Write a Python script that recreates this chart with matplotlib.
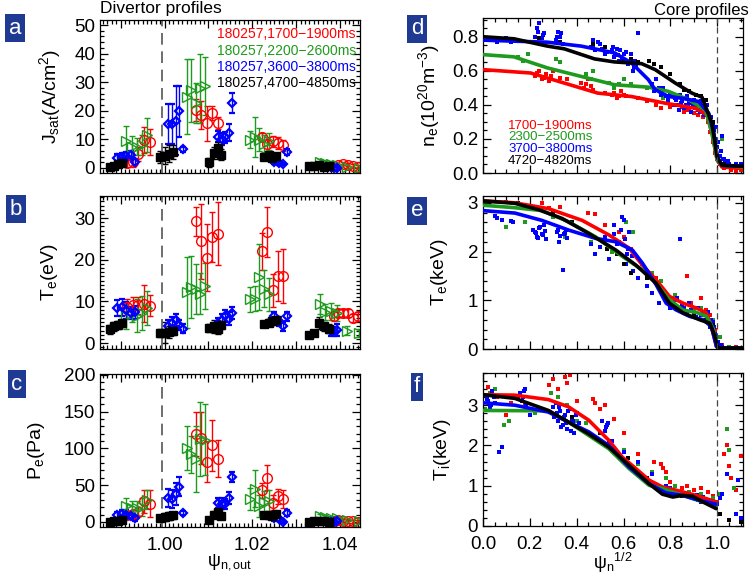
import numpy as np
import matplotlib
matplotlib.use('Agg')
import matplotlib.pyplot as plt
from matplotlib.ticker import MultipleLocator, FuncFormatter

plt.rcParams['font.family'] = ['Liberation Sans', 'DejaVu Sans']
plt.rcParams['mathtext.fontset'] = 'custom'
plt.rcParams['mathtext.rm'] = 'Liberation Sans'
plt.rcParams['mathtext.it'] = 'Liberation Sans'
plt.rcParams['mathtext.default'] = 'regular'

RED, GREEN, BLUE, BLACK = '#ff0000', '#1e9a1e', '#0000ff', '#000000'

# ---------------- divertor data (psi_n,out) ----------------
div_labels = ['180257,1700\u22121900ms', '180257,2200\u22122600ms',
              '180257,3600\u22123800ms', '180257,4700\u22124850ms']

red_x = [0.9915, 0.9927, 0.9940, 0.9953, 0.9966,
         1.0072, 1.0084, 1.0096, 1.0108, 1.0121,
         1.0222, 1.0234, 1.0246, 1.0258, 1.0270,
         1.0385, 1.0396, 1.0407, 1.0418, 1.0429, 1.0440]
red_jsat = [1.7, 2.0, 5.0, 9.8, 9.0, 20.3, 18.6, 15.6, 19.2, 15.7,
            10.8, 8.5, 9.3, 8.7, 7.9, 0.8, 1.0, 1.5, 1.2, 0.8, 0.5]
red_jsat_err = [1.5, 1.5, 2.5, 4.5, 4.5, 4.0, 5.0, 6.0, 2.5, 2.0,
                1.5, 2.5, 2.0, 2.0, 2.0, 0.5, 0.5, 0.5, 0.5, 0.5, 0.5]
red_te = [8.7, 9.1, 9.1, 9.5, 9.0, 29.2, 24.4, 20.5, 25.5, 26.3,
          22.0, 26.7, 12.7, 16.1, 16.1, 6.4, 7.3, 7.3, 7.3, 6.0, 6.4]
red_te_err = [2.0, 2.0, 2.0, 4.5, 2.5, 3.5, 9.0, 8.0, 6.0, 7.5,
              4.5, 6.0, 4.0, 6.0, 6.5, 1.0, 1.0, 1.0, 1.0, 1.0, 1.0]
red_pe = [10, 11, 14, 28, 25, 120, 114, 82, 104, 86,
          43, 60, 26, 35, 31, 2, 3, 2, 1, 1, 0.5]
red_pe_err = [5, 5, 6, 16, 18, 30, 35, 28, 35, 25,
              10, 17, 10, 10, 12, 2, 2, 2, 2, 2, 2]

green_x = [0.9913, 0.9926, 0.9938, 0.9948, 0.9960,
           1.0050, 1.0061, 1.0071, 1.0080, 1.0091,
           1.0195, 1.0205, 1.0215, 1.0226, 1.0237,
           1.0355, 1.0366, 1.0378, 1.0393, 1.0415, 1.0442]
green_jsat = [9.6, 7.2, 7.4, 8.0, 11.5, 25.0, 27.1, 22.7, 27.9, 28.7,
              9.9, 11.0, 9.9, 8.5, 9.3, 2.1, 1.8, 1.5, 1.0, 0.5, 0.0]
green_jsat_err = [5, 4, 3, 3.5, 6, 13, 11, 7, 12, 10,
                  3, 7, 4, 3, 3, 1, 1, 1, 0.5, 0.5, 0.5]
green_te = [6.5, 7.0, 6.6, 7.2, 8.4, 12.2, 13.5, 12.9, 11.9, 13.8,
            10.5, 10.7, 15.9, 13.1, 11.7, 9.4, 7.5, 7.6, 7.2, 3.0, 2.5]
green_te_err = [3, 2, 4, 4, 4, 8.5, 7.5, 6, 5, 5.5,
                3, 3, 8, 4.5, 4, 2.5, 2, 2, 2, 1, 1]
green_pe = [22, 19, 19, 20, 30, 101, 92, 86, 113, 112,
            31, 45, 22, 27, 29, 8, 7, 6, 6, 3, 1]
green_pe_err = [10, 10, 10, 12, 13, 30, 25, 45, 50, 48,
                15, 25, 15, 15, 15, 3, 3, 2, 2, 1, 1]

blue_x = [0.9891, 0.9902, 0.9913, 0.9923, 0.9932,
          1.0008, 1.0017, 1.0026, 1.0034, 1.0042,
          1.0121, 1.0130, 1.0137, 1.0146, 1.0153,
          1.0249, 1.0260, 1.0270, 1.0278,
          1.0378, 1.0385, 1.0393]
blue_jsat = [3.5, 3.8, 4.1, 4.4, 2.0, 15.5, 15.5, 16.5, 19.8, 6.5,
             11.0, 10.1, 10.7, 12.4, 22.7, 2.1, 1.7, 1.4, 5.6, 0.2, 0.1, 0.1]
blue_jsat_err = [1.5, 1.5, 1.5, 1.5, 1.0, 7, 7, 12, 9, 0.8,
                 2, 2, 2, 3, 3.5, 0.8, 0.5, 0.5, 1.2, 0.3, 0.3, 0.3]
blue_te = [8.4, 8.6, 7.9, 7.2, 7.4, 4.0, 4.8, 5.5, 4.3, 3.5,
           4.8, 5.6, 6.5, 5.9, 7.2, 6.4, 5.2, 4.0, 6.4, 2.8, 2.8, 3.2]
blue_te_err = [2, 2, 2, 1.5, 1.5, 1.5, 1.5, 1.5, 1.2, 1.0,
               1.2, 1.5, 1.5, 1.5, 1.5, 1, 1, 1, 1, 1, 1, 1.5]
blue_pe = [9, 11, 10, 7.7, 5, 33, 31, 38, 48, 12,
           26, 25, 24, 33, 61, 5, 4, 0, 12, 0, 0, 1]
blue_pe_err = [5, 5, 6, 4, 3, 12, 12, 15, 13, 3,
               7, 7, 7, 8, 7, 3, 3, 2, 4, 1, 1, 1]

black_x = [0.9875, 0.9885, 0.9895, 0.9903,
           0.9989, 1.0000, 1.0011, 1.0019,
           1.0102, 1.0112, 1.0121, 1.0128,
           1.0226, 1.0238, 1.0245, 1.0253,
           1.0328, 1.0340, 1.0351, 1.0362, 1.0374]
black_jsat = [0.2, 0.8, 1.3, 1.6, 3.8, 4.3, 5.0, 5.6, 2.0, 5.2, 7.0, 4.7,
              4.0, 4.5, 3.5, 4.2, 0.8, 0.6, 0.9, 0.5, 0.7]
black_jsat_err = [0.5, 0.5, 0.8, 0.8, 2, 3, 3, 2.5, 1.5, 2, 2, 2,
                  1, 1, 1, 1, 1, 1, 1, 1, 1]
black_te = [3.3, 4.0, 4.4, 4.8, 2.4, 2.5, 2.7, 2.9, 3.6, 4.0, 3.3, 4.4,
            4.6, 4.9, 5.2, 5.5, 2.0, 2.4, 4.8, 4.0, 3.5]
black_te_err = [1, 1, 1, 1, 1, 2.5, 1.5, 1, 1, 1.5, 1, 1,
                0.8, 0.8, 0.8, 0.8, 0.5, 0.5, 1.5, 1, 1]
black_pe = [0, 1, 2, 3, 5, 7, 8, 9, 3, 10, 13, 8, 10, 9, 8, 11, 0, 1, 2, 1, 0]
black_pe_err = [2, 2, 2, 2, 4, 5, 5, 5, 4, 5, 5, 4, 3, 3, 3, 3, 1, 1, 1, 1, 1]

# ---------------- core data (psi_n^1/2) ----------------
core_labels = ['1700\u22121900ms', '2300\u22122500ms', '3700\u22123800ms', '4720\u22124820ms']

# fitted profiles
red_ne_fx = [0.0, 0.204, 0.347, 0.49, 0.634, 0.778, 0.907, 0.957, 0.978, 1.0, 1.02, 1.11]
red_ne_fy = [0.607, 0.587, 0.528, 0.469, 0.449, 0.41, 0.38, 0.34, 0.23, 0.075, 0.035, 0.026]
green_ne_fx = [0.0, 0.132, 0.275, 0.419, 0.562, 0.706, 0.792, 0.878, 0.95, 0.978, 1.0, 1.02, 1.11]
green_ne_fy = [0.695, 0.682, 0.617, 0.567, 0.518, 0.504, 0.479, 0.43, 0.37, 0.23, 0.075, 0.045, 0.035]
blue_ne_fx = [0.0, 0.132, 0.275, 0.419, 0.562, 0.634, 0.706, 0.735, 0.792, 0.849, 0.921, 0.964, 0.986, 1.0, 1.02, 1.11]
blue_ne_fy = [0.78, 0.774, 0.768, 0.745, 0.705, 0.646, 0.548, 0.489, 0.449, 0.439, 0.42, 0.35, 0.23, 0.095, 0.045, 0.04]
black_ne_fx = [0.0, 0.132, 0.275, 0.347, 0.476, 0.562, 0.677, 0.735, 0.821, 0.892, 0.935, 0.978, 1.0, 1.02, 1.11]
black_ne_fy = [0.80, 0.788, 0.745, 0.729, 0.67, 0.652, 0.642, 0.607, 0.528, 0.469, 0.445, 0.29, 0.095, 0.045, 0.04]

red_te_fx = [0.0, 0.136, 0.28, 0.423, 0.538, 0.624, 0.681, 0.739, 0.796, 0.854, 0.911, 0.954, 0.975, 0.997, 1.01, 1.11]
red_te_fy = [3.04, 3.0, 2.88, 2.64, 2.34, 2.07, 1.72, 1.42, 1.08, 0.94, 0.84, 0.74, 0.46, 0.05, 0.02, 0.02]
green_te_fx = [0.0, 0.136, 0.251, 0.366, 0.481, 0.595, 0.681, 0.739, 0.796, 0.854, 0.911, 0.954, 0.982, 0.997, 1.01, 1.11]
green_te_fy = [2.95, 2.9, 2.84, 2.61, 2.3, 1.9, 1.62, 1.35, 1.01, 0.80, 0.75, 0.67, 0.43, 0.05, 0.02, 0.02]
blue_te_fx = [0.0, 0.136, 0.251, 0.366, 0.481, 0.567, 0.638, 0.681, 0.739, 0.782, 0.825, 0.882, 0.94, 0.975, 0.997, 1.01, 1.11]
blue_te_fy = [2.84, 2.79, 2.64, 2.44, 2.27, 2.2, 2.03, 1.76, 1.32, 0.94, 0.8, 0.67, 0.6, 0.46, 0.05, 0.02, 0.02]
black_te_fx = [0.0, 0.136, 0.237, 0.337, 0.452, 0.567, 0.653, 0.739, 0.796, 0.854, 0.925, 0.968, 0.99, 1.003, 1.01, 1.11]
black_te_fy = [3.04, 2.99, 2.86, 2.68, 2.37, 2.03, 1.72, 1.35, 0.94, 0.74, 0.6, 0.53, 0.26, 0.02, 0.02, 0.02]

red_ti_fx = [0.0, 0.136, 0.279, 0.365, 0.451, 0.537, 0.595, 0.652, 0.709, 0.766, 0.824, 0.91, 0.996]
red_ti_fy = [3.26, 3.25, 3.14, 2.96, 2.63, 2.13, 1.71, 1.43, 1.14, 0.97, 0.89, 0.76, 0.6]
green_ti_fx = [0.0, 0.279, 0.365, 0.451, 0.537, 0.623, 0.709, 0.766, 0.852, 0.938, 0.996]
green_ti_fy = [2.87, 2.86, 2.58, 2.25, 1.92, 1.43, 1.01, 0.93, 0.76, 0.6, 0.47]
blue_ti_fx = [0.0, 0.136, 0.279, 0.365, 0.451, 0.537, 0.623, 0.709, 0.781, 0.852, 0.924, 0.996]
blue_ti_fy = [3.06, 3.0, 2.83, 2.58, 2.34, 2.0, 1.47, 1.05, 0.82, 0.76, 0.64, 0.54]
black_ti_fx = [0.0, 0.136, 0.279, 0.365, 0.451, 0.537, 0.623, 0.709, 0.766, 0.81, 0.852, 0.895, 0.938, 0.996]
black_ti_fy = [3.26, 3.17, 2.87, 2.58, 2.29, 1.96, 1.51, 1.05, 0.79, 0.72, 0.76, 0.74, 0.6, 0.43]

# measured points
red_ne_x = [0.22, 0.24, 0.25, 0.27, 0.28, 0.30, 0.33, 0.36, 0.42, 0.43, 0.45, 0.47, 0.52, 0.55, 0.57, 0.59, 0.61, 0.66, 0.70, 0.74,
            0.76, 0.79, 0.82, 0.85, 0.87, 0.89, 0.91, 0.92, 0.94, 0.95, 0.96, 0.97, 0.98, 0.99, 1.00, 1.01, 1.03, 1.06, 1.08, 1.10,
            0.23, 0.26, 0.29, 0.44, 0.46, 0.56, 0.58, 0.60, 0.80, 0.86, 0.88, 0.90, 0.93, 0.96, 0.98]
red_ne_y = [0.57, 0.60, 0.55, 0.58, 0.54, 0.60, 0.56, 0.55, 0.53, 0.50, 0.55, 0.49, 0.47, 0.46, 0.44, 0.48, 0.45, 0.44, 0.42, 0.40,
            0.38, 0.41, 0.40, 0.39, 0.37, 0.36, 0.38, 0.34, 0.33, 0.37, 0.30, 0.24, 0.18, 0.12, 0.08, 0.05, 0.03, 0.02, 0.01, 0.02,
            0.59, 0.56, 0.57, 0.52, 0.51, 0.47, 0.45, 0.46, 0.39, 0.36, 0.38, 0.35, 0.36, 0.31, 0.20]
green_ne_x = [0.15, 0.17, 0.19, 0.31, 0.33, 0.44, 0.46, 0.47, 0.54, 0.56, 0.58, 0.60, 0.63, 0.70, 0.73, 0.77, 0.82, 0.85, 0.90,
              0.93, 0.96, 0.98, 1.00, 1.02, 1.05, 1.08]
green_ne_y = [0.68, 0.66, 0.70, 0.67, 0.65, 0.58, 0.55, 0.60, 0.53, 0.50, 0.52, 0.55, 0.52, 0.50, 0.48, 0.44, 0.46, 0.44, 0.40,
              0.38, 0.32, 0.22, 0.10, 0.20, 0.04, 0.03]
blue_ne_x = [0.02, 0.06, 0.10, 0.14, 0.22, 0.23, 0.24, 0.25, 0.26, 0.31, 0.32, 0.33, 0.34, 0.46, 0.47, 0.48, 0.50, 0.52, 0.55,
             0.56, 0.57, 0.58, 0.60, 0.62, 0.63, 0.64, 0.65, 0.66, 0.72, 0.73, 0.74, 0.75, 0.78, 0.80, 0.82, 0.83, 0.84, 0.85,
             0.86, 0.87, 0.88, 0.89, 0.90, 0.91, 0.92, 0.93, 0.94, 0.95, 0.96, 0.97, 0.98, 0.99, 1.00, 1.01, 1.02, 1.03, 1.04,
             1.05, 1.07, 1.09, 1.10,
             0.03, 0.08, 0.12, 0.235, 0.245, 0.255, 0.315, 0.325, 0.335, 0.47, 0.49, 0.51, 0.53, 0.555, 0.565, 0.575, 0.585,
             0.595, 0.61, 0.615, 0.635, 0.645, 0.655, 0.76, 0.77, 0.79, 0.81, 0.815, 0.825, 0.835, 0.845, 0.855, 0.865, 0.875,
             0.885, 0.895, 0.905, 0.915, 0.925, 0.935, 0.945, 0.955, 0.965, 0.975, 0.985, 0.995, 1.005, 1.015, 1.025, 1.035,
             1.045, 1.06, 1.08]
blue_ne_y = [0.78, 0.77, 0.79, 0.78, 0.80, 0.85, 0.88, 0.79, 0.82, 0.78, 0.83, 0.80, 0.76, 0.74, 0.78, 0.72, 0.76, 0.70, 0.72,
             0.68, 0.73, 0.66, 0.70, 0.64, 0.70, 0.60, 0.66, 0.82, 0.52, 0.48, 0.55, 0.50, 0.45, 0.47, 0.44, 0.40, 0.46, 0.42,
             0.38, 0.45, 0.41, 0.36, 0.43, 0.40, 0.37, 0.42, 0.38, 0.35, 0.33, 0.30, 0.28, 0.20, 0.15, 0.10, 0.22, 0.08, 0.06,
             0.05, 0.04, 0.03, 0.05,
             0.79, 0.78, 0.77, 0.83, 0.79, 0.81, 0.80, 0.77, 0.82, 0.75, 0.77, 0.73, 0.71, 0.74, 0.70, 0.69, 0.72,
             0.67, 0.71, 0.65, 0.66, 0.62, 0.63, 0.46, 0.50, 0.43, 0.45, 0.40, 0.43, 0.37, 0.41, 0.44, 0.40, 0.39,
             0.42, 0.40, 0.38, 0.41, 0.36, 0.39, 0.34, 0.40, 0.31, 0.33, 0.25, 0.27, 0.18, 0.13, 0.08, 0.06,
             0.07, 0.04, 0.05]
black_ne_x = [0.24, 0.33, 0.47, 0.52, 0.60, 0.63, 0.66, 0.71, 0.73, 0.76, 0.80, 0.84, 0.86, 0.88, 0.91, 0.93, 0.95, 0.98,
              1.00, 1.03, 1.06, 1.09]
black_ne_y = [0.79, 0.77, 0.76, 0.74, 0.66, 0.67, 0.65, 0.66, 0.64, 0.62, 0.58, 0.52, 0.49, 0.48, 0.46, 0.45, 0.43, 0.30,
              0.10, 0.05, 0.04, 0.04]

blue_te_x = [0.05, 0.08, 0.12, 0.13, 0.22, 0.23, 0.24, 0.25, 0.26, 0.27, 0.32, 0.33, 0.34, 0.35, 0.36, 0.46, 0.48, 0.50,
             0.52, 0.54, 0.56, 0.58, 0.60, 0.61, 0.62, 0.64, 0.66, 0.70, 0.72, 0.75, 0.78, 0.80, 0.82, 0.84, 0.85, 0.87,
             0.89, 0.91, 0.93, 0.95, 0.96, 0.97, 0.98, 0.99, 1.00, 1.02, 1.04, 1.07, 1.10,
             0.06, 0.215, 0.225, 0.235, 0.245, 0.255, 0.265, 0.315, 0.325, 0.345, 0.355, 0.56, 0.57, 0.59, 0.595, 0.605,
             0.615, 0.625, 0.635, 0.79, 0.81, 0.83, 0.86, 0.88, 0.90, 0.92, 0.94, 0.955, 0.965, 0.975, 0.985, 1.005, 1.015]
blue_te_y = [2.72, 2.65, 2.62, 2.60, 2.40, 2.30, 2.48, 2.35, 2.55, 2.25, 2.45, 2.32, 1.62, 2.38, 2.28, 2.15, 1.95, 2.10,
             2.30, 1.85, 2.55, 2.20, 2.65, 1.75, 2.05, 1.60, 1.45, 1.30, 1.15, 0.95, 1.05, 0.85, 1.00, 2.25, 0.90, 0.75,
             0.80, 0.65, 0.70, 0.60, 0.75, 0.45, 0.55, 0.30, 0.10, 0.05, 0.03, 0.02, 0.02,
             2.68, 2.45, 2.38, 2.28, 2.50, 2.33, 2.42, 2.40, 2.20, 2.35, 2.45, 2.35, 2.15, 2.45, 2.70, 2.25,
             1.95, 2.40, 1.90, 0.95, 0.90, 1.05, 0.85, 0.95, 0.70, 0.85, 0.75, 0.65, 0.55, 0.60, 0.45, 0.15, 0.08]
red_te_x = [0.10, 0.25, 0.28, 0.33, 0.45, 0.48, 0.52, 0.58, 0.60, 0.63, 0.68, 0.74, 0.78, 0.82, 0.87, 0.89, 0.91, 0.93,
            0.95, 0.97, 0.99, 1.02, 1.08]
red_te_y = [3.02, 3.00, 2.90, 2.92, 2.80, 2.78, 2.55, 2.40, 2.30, 2.05, 1.75, 1.45, 1.10, 1.00, 1.50, 0.95, 0.85, 1.05,
            0.80, 0.70, 0.40, 0.08, 0.05]
green_te_x = [0.10, 0.18, 0.30, 0.35, 0.46, 0.55, 0.61, 0.64, 0.72, 0.76, 0.82, 0.86, 0.90, 0.93, 0.96, 0.98, 1.01, 1.05]
green_te_y = [2.50, 2.60, 2.70, 2.30, 2.20, 2.00, 2.60, 2.40, 1.55, 1.40, 1.10, 0.85, 0.80, 0.85, 0.75, 0.60, 0.25, 0.05]
black_te_x = [0.00, 0.15, 0.22, 0.30, 0.38, 0.47, 0.53, 0.57, 0.60, 0.63, 0.70, 0.76, 0.85, 0.90, 0.95, 0.98, 1.02]
black_te_y = [3.00, 3.00, 2.92, 2.80, 2.60, 2.30, 2.05, 1.95, 1.75, 1.55, 1.45, 1.20, 0.75, 0.68, 0.60, 0.50, 0.03]

red_ti_x = [0.02, 0.04, 0.06, 0.10, 0.12, 0.18, 0.28, 0.30, 0.32, 0.35, 0.36, 0.37, 0.40, 0.47, 0.48, 0.50, 0.52, 0.56,
            0.60, 0.66, 0.73, 0.76, 0.77, 0.78, 0.80, 0.85, 0.87, 0.90, 0.93, 0.96, 0.98, 1.00, 1.03, 1.04, 1.05, 1.06,
            1.08, 1.10, 1.10]
red_ti_y = [3.45, 3.30, 3.20, 2.75, 3.05, 3.05, 3.50, 3.65, 3.40, 3.70, 3.55, 3.75, 3.10, 3.15, 3.05, 2.90, 3.00, 2.65,
            2.30, 1.80, 1.60, 1.55, 1.45, 1.35, 1.10, 0.95, 1.00, 0.90, 0.95, 0.85, 0.75, 0.60, 1.80, 2.00, 1.50, 1.20,
            0.90, 1.75, 0.20]
green_ti_x = [0.01, 0.03, 0.05, 0.09, 0.11, 0.15, 0.22, 0.29, 0.32, 0.36, 0.40, 0.44, 0.55, 0.60, 0.66, 0.72, 0.78, 0.82,
              0.88, 0.93, 0.98, 1.01, 1.04, 1.05, 1.07]
green_ti_y = [2.90, 3.30, 3.40, 2.50, 2.60, 3.20, 2.80, 3.30, 3.20, 3.00, 2.60, 2.55, 2.10, 1.90, 1.55, 1.35, 1.20, 1.00,
              0.85, 0.80, 0.70, 0.80, 2.40, 1.90, 0.95]
blue_ti_x = [0.01, 0.02, 0.03, 0.04, 0.05, 0.07, 0.08, 0.16, 0.17, 0.18, 0.19, 0.20, 0.30, 0.31, 0.32, 0.33, 0.34, 0.35,
             0.36, 0.37, 0.38, 0.39, 0.40, 0.41, 0.51, 0.52, 0.53, 0.54, 0.55, 0.60, 0.66, 0.72, 0.78, 0.79, 0.80, 0.88,
             0.90, 0.91, 0.92, 0.93, 0.94, 1.00, 1.01, 1.02, 1.04, 1.08, 1.09, 1.10,
             0.015, 0.035, 0.045, 0.165, 0.175, 0.185, 0.305, 0.315, 0.325, 0.335, 0.345, 0.355, 0.365, 0.375, 0.385,
             0.395, 0.525, 0.535, 0.905, 0.915]
blue_ti_y = [3.25, 3.10, 2.95, 3.35, 3.05, 1.85, 1.95, 3.30, 3.20, 3.40, 2.90, 2.75, 2.95, 3.05, 2.60, 2.85, 2.50, 2.75,
             2.40, 2.90, 2.65, 2.30, 2.80, 2.55, 2.60, 2.35, 2.50, 2.05, 2.10, 1.85, 1.60, 1.30, 1.00, 0.85, 0.95, 0.80,
             0.70, 0.75, 0.65, 0.60, 0.72, 0.55, 0.70, 0.80, 1.30, 0.30, 1.15, 0.20,
             3.15, 3.00, 3.20, 3.10, 3.35, 3.00, 2.70, 2.80, 2.95, 2.45, 2.70, 2.55, 2.85, 2.35, 2.60,
             2.75, 2.45, 2.55, 0.68, 0.78]
black_ti_x = [0.15, 0.38, 0.50, 0.62, 0.70, 0.80, 0.85, 0.93, 1.01, 1.05, 1.10]
black_ti_y = [3.18, 2.70, 2.30, 1.70, 1.20, 0.80, 0.75, 0.70, 0.30, 0.15, 0.10]

# ---------------- figure ----------------
fig = plt.figure(figsize=(7.5, 5.77), dpi=100)

W, H = 750.0, 577.0
def box(l, t, r, b):
    return [l / W, 1 - b / H, (r - l) / W, (b - t) / H]

ax_a = fig.add_axes(box(100, 20, 360, 173))
ax_b = fig.add_axes(box(100, 196, 360, 349))
ax_c = fig.add_axes(box(100, 374, 360, 527))
ax_d = fig.add_axes(box(483, 18, 743, 173))
ax_e = fig.add_axes(box(483, 196, 743, 349))
ax_f = fig.add_axes(box(483, 373, 743, 526))


def style(ax):
    ax.tick_params(which='both', direction='in', top=True, right=True, labelsize=13.5, width=0.9)
    ax.tick_params(which='major', length=6)
    ax.tick_params(which='minor', length=3)
    ax.tick_params(axis='x', pad=7)
    for s in ax.spines.values():
        s.set_linewidth(0.9)


div_sets = [
    (red_x, 'o', RED, 7, 1.0, 'none'),
    (green_x, '>', GREEN, 7, 1.0, 'none'),
    (blue_x, 'D', BLUE, 4, 1.6, 'none'),
    (black_x, 's', BLACK, 5.5, 1.0, BLACK),
]
div_y = {
    'a': [(red_jsat, red_jsat_err), (green_jsat, green_jsat_err), (blue_jsat, blue_jsat_err), (black_jsat, black_jsat_err)],
    'b': [(red_te, red_te_err), (green_te, green_te_err), (blue_te, blue_te_err), (black_te, black_te_err)],
    'c': [(red_pe, red_pe_err), (green_pe, green_pe_err), (blue_pe, blue_pe_err), (black_pe, black_pe_err)],
}

for ax, key, ylim, ymaj, ymin_, ylab, lx in [
        (ax_a, 'a', (-1.75, 51.75), 10, 2, 'J$_{sat}$(A/cm$^2$)', -0.142),
        (ax_b, 'b', (-1.4, 35.3), 10, 1, 'T$_e$(eV)', -0.154),
        (ax_c, 'c', (-6.8, 201), 50, 10, 'P$_e$(Pa)', -0.204)]:
    for (xs, mk, col, ms, mew, mfc), (ys, es) in zip(div_sets, div_y[key]):
        ax.errorbar(xs, ys, yerr=es, fmt=mk, color=col, mec=col, mfc=mfc, ms=ms, mew=mew,
                    ecolor=col, elinewidth=1.0, capsize=2.5, capthick=1.0)
    ax.axvline(0.9995, color='#555555', lw=1.2, ls=(0, (7, 4)))
    ax.set_xlim(0.9853, 1.0445)
    ax.set_ylim(*ylim)
    ax.xaxis.set_major_locator(MultipleLocator(0.01))
    ax.xaxis.set_minor_locator(MultipleLocator(0.001))
    ax.yaxis.set_major_locator(MultipleLocator(ymaj))
    ax.yaxis.set_minor_locator(MultipleLocator(ymin_))
    ax.set_ylabel(ylab, fontsize=14)
    ax.yaxis.set_label_coords(lx, 0.5)
    style(ax)

ax_a.set_xticklabels([])
ax_b.set_xticklabels([])
ax_c.xaxis.set_major_formatter(FuncFormatter(
    lambda v, p: ('%.2f' % v) if abs(round(v * 100) % 2) < 0.5 else ''))
ax_c.set_xlabel('\u03c8$_{n,out}$', fontsize=13, labelpad=-1.5)

for lab, col, yy in zip(div_labels, [RED, GREEN, BLUE, BLACK], [34, 51, 67, 83]):
    fig.text(356 / W, 1 - yy / H, lab, color=col, fontsize=10, ha='right', va='center')

# core panels
core_cols = [RED, GREEN, BLUE, BLACK]
core_pts = {
    'd': [(red_ne_x, red_ne_y), (green_ne_x, green_ne_y), (blue_ne_x, blue_ne_y), (black_ne_x, black_ne_y)],
    'e': [(red_te_x, red_te_y), (green_te_x, green_te_y), (blue_te_x, blue_te_y), (black_te_x, black_te_y)],
    'f': [(red_ti_x, red_ti_y), (green_ti_x, green_ti_y), (blue_ti_x, blue_ti_y), (black_ti_x, black_ti_y)],
}
core_fit = {
    'd': [(red_ne_fx, red_ne_fy), (green_ne_fx, green_ne_fy), (blue_ne_fx, blue_ne_fy), (black_ne_fx, black_ne_fy)],
    'e': [(red_te_fx, red_te_fy), (green_te_fx, green_te_fy), (blue_te_fx, blue_te_fy), (black_te_fx, black_te_fy)],
    'f': [(red_ti_fx, red_ti_fy), (green_ti_fx, green_ti_fy), (blue_ti_fx, blue_ti_fy), (black_ti_fx, black_ti_fy)],
}

for ax, key, ylim, ymaj, ymin_, ylab, lx in [
        (ax_d, 'd', (0, 0.91), 0.2, 0.05, 'n$_e$(10$^{20}$m$^{-3}$)', -0.158),
        (ax_e, 'e', (0, 3.14), 1, 0.2, 'T$_e$(keV)', -0.127),
        (ax_f, 'f', (0, 3.8), 1, 0.2, 'T$_i$(keV)', -0.115)]:
    for col, (px, py) in zip(core_cols, core_pts[key]):
        ax.scatter(px, py, s=7, marker='s', color=col, lw=0, zorder=2)
    for col, (fx, fy) in zip(core_cols, core_fit[key]):
        ax.plot(fx, fy, color=col, lw=2.6, zorder=3, solid_capstyle='round')
    ax.axvline(1.0, color='#444444', lw=0.9, ls=(0, (5, 3)), zorder=4)
    ax.set_xlim(0, 1.11)
    ax.set_ylim(*ylim)
    ax.xaxis.set_major_locator(MultipleLocator(0.2))
    ax.xaxis.set_minor_locator(MultipleLocator(0.05))
    ax.yaxis.set_major_locator(MultipleLocator(ymaj))
    ax.yaxis.set_minor_locator(MultipleLocator(ymin_))
    ax.set_ylabel(ylab, fontsize=14)
    ax.yaxis.set_label_coords(lx, 0.5)
    style(ax)

ax_d.yaxis.set_major_formatter(FuncFormatter(lambda v, p: '%.1f' % v))
ax_d.set_xticklabels([])
ax_e.set_xticklabels([])
ax_e.yaxis.set_major_formatter(FuncFormatter(lambda v, p: '%d' % round(v)))
ax_f.yaxis.set_major_formatter(FuncFormatter(lambda v, p: '%d' % round(v)))
ax_f.xaxis.set_major_formatter(FuncFormatter(lambda v, p: '%.1f' % v))
ax_f.set_xlabel('\u03c8$_n$$^{1/2}$', fontsize=13, labelpad=-1.5)

for lab, col, yy in zip(core_labels, core_cols, [126, 137.5, 149, 160.5]):
    fig.text(508 / W, 1 - yy / H, lab, color=col, fontsize=9.5, ha='left', va='center')

# titles and panel letters
fig.text(100 / W, 1 - 9 / H, 'Divertor profiles', fontsize=12.5, ha='left', va='center')
fig.text(749 / W, 1 - 10 / H, 'Core profiles', fontsize=12, ha='right', va='center')

for letter, (lx, ly) in zip('abcdef', [(15, 28), (16, 209), (17, 384), (417, 29), (417, 211), (417, 387)]):
    fig.text(lx / W, 1 - ly / H, letter, fontsize=16, color='white', ha='center', va='center',
             bbox=dict(boxstyle='square,pad=0.15', facecolor='#1f3a93', edgecolor='none'))

fig.savefig('out.png', dpi=100)
